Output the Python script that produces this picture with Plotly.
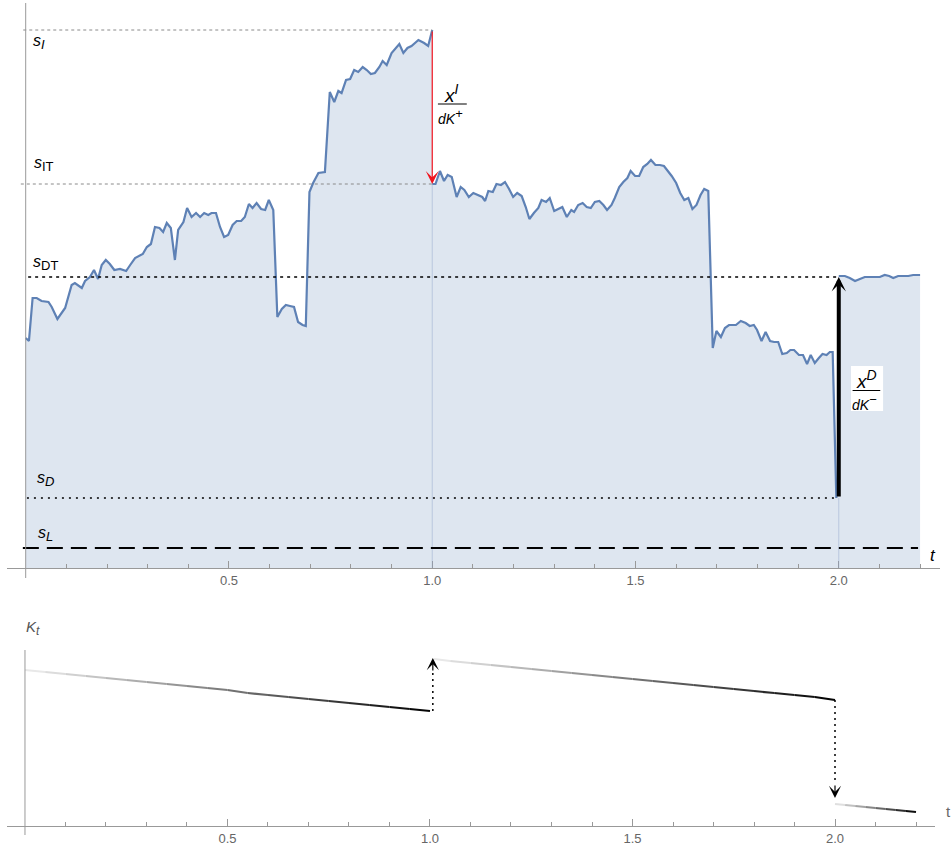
import plotly.graph_objects as go

W, H = 951, 852

# ---------------- data: state path s_t (three pieces, broken at the controlled jumps) -------------
t_a = [0.000, 0.008, 0.017, 0.027, 0.039, 0.056, 0.064, 0.078, 0.097, 0.113,
       0.121, 0.138, 0.146, 0.158, 0.168, 0.178, 0.187, 0.197, 0.207, 0.218,
       0.232, 0.247, 0.257, 0.269, 0.288, 0.298, 0.308, 0.318, 0.329, 0.338,
       0.347, 0.357, 0.367, 0.375, 0.388, 0.397, 0.408, 0.419, 0.429, 0.439,
       0.449, 0.457, 0.468, 0.478, 0.488, 0.498, 0.509, 0.519, 0.530, 0.539,
       0.549, 0.558, 0.568, 0.579, 0.589, 0.598, 0.609, 0.619, 0.630, 0.640,
       0.650, 0.660, 0.670, 0.681, 0.689, 0.698, 0.707, 0.720, 0.736, 0.748,
       0.759, 0.769, 0.777, 0.788, 0.798, 0.808, 0.818, 0.829, 0.839, 0.849,
       0.859, 0.870, 0.878, 0.888, 0.900, 0.919, 0.929, 0.939, 0.949, 0.966,
       0.980, 0.990, 1.000]
s_a = [2.30, 2.27, 2.70, 2.70, 2.67, 2.66, 2.61, 2.49, 2.60, 2.83,
       2.85, 2.80, 2.87, 2.91, 2.98, 2.89, 3.03, 3.08, 3.04, 2.98,
       2.99, 2.97, 3.03, 3.10, 3.14, 3.21, 3.24, 3.41, 3.40, 3.36,
       3.45, 3.40, 3.08, 3.38, 3.46, 3.60, 3.51, 3.55, 3.51, 3.55,
       3.53, 3.55, 3.55, 3.41, 3.31, 3.33, 3.43, 3.47, 3.47, 3.51,
       3.64, 3.60, 3.65, 3.59, 3.58, 3.68, 3.58, 2.51, 2.59, 2.63,
       2.62, 2.61, 2.46, 2.43, 2.42, 3.76, 3.85, 3.95, 3.96, 4.76,
       4.66, 4.77, 4.75, 4.88, 4.89, 4.98, 4.96, 5.01, 4.98, 4.94,
       4.95, 5.01, 5.07, 5.03, 5.15, 5.24, 5.15, 5.20, 5.22, 5.28,
       5.25, 5.22, 5.38]

t_b = [1.000, 1.008, 1.019, 1.029, 1.038, 1.048, 1.060, 1.070, 1.079, 1.090,
       1.101, 1.113, 1.123, 1.130, 1.138, 1.149, 1.158, 1.169, 1.179, 1.189,
       1.199, 1.209, 1.220, 1.230, 1.239, 1.250, 1.261, 1.269, 1.280, 1.289,
       1.300, 1.310, 1.320, 1.331, 1.342, 1.349, 1.359, 1.370, 1.380, 1.390,
       1.400, 1.411, 1.421, 1.430, 1.441, 1.449, 1.460, 1.470, 1.480, 1.488,
       1.499, 1.509, 1.519, 1.529, 1.538, 1.549, 1.560, 1.570, 1.578, 1.589,
       1.600, 1.610, 1.620, 1.630, 1.640, 1.650, 1.660, 1.669, 1.679, 1.690,
       1.699, 1.710, 1.720, 1.730, 1.747, 1.759, 1.771, 1.781, 1.791, 1.799,
       1.810, 1.820, 1.831, 1.841, 1.851, 1.861, 1.872, 1.881, 1.890, 1.902,
       1.912, 1.922, 1.931, 1.941, 1.951, 1.960, 1.970, 1.978, 1.985, 1.994]
s_b = [3.84, 3.84, 3.97, 3.87, 3.93, 3.91, 3.71, 3.81, 3.78, 3.71,
       3.75, 3.73, 3.71, 3.67, 3.77, 3.76, 3.84, 3.83, 3.86, 3.79,
       3.71, 3.75, 3.72, 3.61, 3.49, 3.55, 3.60, 3.68, 3.66, 3.70,
       3.57, 3.59, 3.61, 3.51, 3.58, 3.56, 3.63, 3.65, 3.61, 3.60,
       3.66, 3.67, 3.63, 3.58, 3.63, 3.70, 3.81, 3.86, 3.90, 3.97,
       3.92, 3.92, 4.01, 4.04, 4.08, 4.03, 4.03, 4.02, 3.98, 3.92,
       3.85, 3.75, 3.68, 3.70, 3.59, 3.63, 3.73, 3.79, 3.77, 2.20,
       2.37, 2.31, 2.40, 2.43, 2.43, 2.47, 2.45, 2.42, 2.43, 2.38,
       2.27, 2.36, 2.27, 2.26, 2.26, 2.14, 2.15, 2.18, 2.18, 2.13,
       2.13, 2.04, 2.13, 2.05, 2.10, 2.14, 2.13, 2.16, 2.16, 0.70]

t_c = [2.000, 2.015, 2.027, 2.040, 2.052, 2.064, 2.089, 2.101, 2.113, 2.124,
       2.134, 2.146, 2.158, 2.171, 2.183, 2.200]
s_c = [2.92, 2.92, 2.90, 2.87, 2.89, 2.91, 2.91, 2.91, 2.93, 2.92,
       2.90, 2.92, 2.92, 2.92, 2.93, 2.93]

# thresholds
level_keys = ["I", "IT", "DT", "D", "L"]
level_values = [5.38, 3.84, 2.91, 0.70, 0.20]

# ---------------- data: capital K_t (three pieces) ----------------
k_t1 = [0.00, 0.05, 0.10, 0.15, 0.20, 0.25, 0.30, 0.35, 0.40, 0.45, 0.50,
        0.55, 0.60, 0.65, 0.70, 0.75, 0.80, 0.85, 0.90, 0.95, 1.00]
k_v1 = [1.56, 1.54, 1.52, 1.50, 1.48, 1.46, 1.44, 1.42, 1.40, 1.38, 1.36,
        1.33, 1.31, 1.29, 1.27, 1.25, 1.23, 1.21, 1.19, 1.17, 1.15]
k_t2 = [1.01, 1.05, 1.10, 1.15, 1.20, 1.25, 1.30, 1.35, 1.40, 1.45, 1.50,
        1.55, 1.60, 1.65, 1.70, 1.75, 1.80, 1.85, 1.90, 1.95, 2.00]
k_v2 = [1.67, 1.65, 1.63, 1.61, 1.59, 1.57, 1.55, 1.53, 1.51, 1.49, 1.47,
        1.45, 1.43, 1.41, 1.39, 1.37, 1.35, 1.33, 1.31, 1.29, 1.26]
k_t3 = [2.000, 2.025, 2.050, 2.075, 2.100, 2.125, 2.150, 2.175, 2.200]
k_v3 = [0.22, 0.21, 0.20, 0.19, 0.18, 0.17, 0.16, 0.15, 0.14]

tick_vals = [0.5, 1.0, 1.5, 2.0]
tick_text = ["0.5", "1.0", "1.5", "2.0"]
minor_vals = [0.1, 0.2, 0.3, 0.4, 0.6, 0.7, 0.8, 0.9, 1.1, 1.2, 1.3, 1.4,
              1.6, 1.7, 1.8, 1.9, 2.1, 2.2]

assert len(t_a) == len(s_a) and len(t_b) == len(s_b) and len(t_c) == len(s_c)

# ---------------- geometry ----------------
TOP_XR = [-0.046, 2.249]
TOP_XD = [7 / W, 940 / W]
TOP_YR = [0, 5.65]
TOP_YD = [(H - 568) / H, (H - 3) / H]
BOT_XR = [-0.0444, 2.2469]
BOT_XD = [7 / W, 935 / W]
BOT_YR = [0, 1.76]
BOT_YD = [(H - 826) / H, (H - 650) / H]

FONT = "Liberation Sans"
BLUE = "#5e81b5"
FILL = "#dee6f0"


def xpaper(t, xr, xd):
    return xd[0] + (t - xr[0]) / (xr[1] - xr[0]) * (xd[1] - xd[0])


def small(txt, px):
    return "<span style='font-size:%dpx'>%s</span>" % (px, txt)


fig = go.Figure()

# filled area under the path
fig.add_trace(go.Scatter(
    x=t_a + t_b + t_c, y=s_a + s_b + s_c, mode="lines", fill="tozeroy",
    fillcolor=FILL, line=dict(width=0, color="rgba(0,0,0,0)"),
    hoverinfo="skip", xaxis="x", yaxis="y"))
# the path itself (no vertical segment at the controlled jumps)
fig.add_trace(go.Scatter(
    x=t_a + [None] + t_b + [None] + t_c, y=s_a + [None] + s_b + [None] + s_c,
    mode="lines", line=dict(color=BLUE, width=2.2), connectgaps=False,
    hoverinfo="skip", xaxis="x", yaxis="y"))

# K_t pieces with light-to-dark gradient
for kt, kv in [(k_t1, k_v1), (k_t2, k_v2), (k_t3, k_v3)]:
    n = len(kt) - 1
    for i in range(n):
        f = (i + 0.5) / n
        g = int(round(238 * (1 - f)))
        fig.add_trace(go.Scatter(
            x=[kt[i], kt[i + 1]], y=[kv[i], kv[i + 1]], mode="lines",
            line=dict(color=f"rgb({g},{g},{g})", width=2.2),
            hoverinfo="skip", xaxis="x2", yaxis="y2"))

lv = dict(zip(level_keys, level_values))
shapes = []
# seams of the filled area at the jump dates
shapes.append(dict(type="line", xref="x", yref="y", x0=1.0, x1=1.0, y0=0, y1=lv["IT"],
                   line=dict(color="rgba(140,162,200,0.45)", width=1)))
shapes.append(dict(type="line", xref="x", yref="y", x0=2.0, x1=2.0, y0=0, y1=lv["D"],
                   line=dict(color="rgba(140,162,200,0.45)", width=1)))
# threshold lines
shapes.append(dict(type="line", xref="x", yref="y", x0=-0.006, x1=1.0, y0=lv["I"], y1=lv["I"],
                   line=dict(color="#8a8a8a", width=1, dash="3px,3px")))
shapes.append(dict(type="line", xref="x", yref="y", x0=-0.012, x1=1.0, y0=lv["IT"], y1=lv["IT"],
                   line=dict(color="#8a8a8a", width=1, dash="3px,3px")))
shapes.append(dict(type="line", xref="x", yref="y", x0=0.006, x1=2.0, y0=lv["DT"], y1=lv["DT"],
                   line=dict(color="black", width=1.6, dash="3px,4px")))
shapes.append(dict(type="line", xref="x", yref="y", x0=0.003, x1=2.0, y0=lv["D"], y1=lv["D"],
                   line=dict(color="black", width=1.6, dash="2px,5px")))
shapes.append(dict(type="line", xref="x", yref="y", x0=-0.007, x1=2.195, y0=lv["L"], y1=lv["L"],
                   line=dict(color="black", width=2.2, dash="16px,8px")))
# white box behind the second fraction label
shapes.append(dict(type="rect", xref="x", yref="y", x0=2.030, x1=2.109, y0=1.57, y1=2.02,
                   fillcolor="white", line=dict(width=0)))
# fraction bars
shapes.append(dict(type="line", xref="x", yref="y", x0=1.014, x1=1.085, y0=4.64, y1=4.64,
                   line=dict(color="black", width=1)))
shapes.append(dict(type="line", xref="x", yref="y", x0=2.034, x1=2.102, y0=1.775, y1=1.775,
                   line=dict(color="black", width=1)))
# vertical axes (drawn in paper space so they can overhang the horizontal axis)
x0_top = xpaper(0, TOP_XR, TOP_XD)
shapes.append(dict(type="line", xref="paper", yref="paper", x0=x0_top, x1=x0_top,
                   y0=(H - 578) / H, y1=(H - 3) / H, line=dict(color="#999", width=1)))
x0_bot = xpaper(0, BOT_XR, BOT_XD)
shapes.append(dict(type="line", xref="paper", yref="paper", x0=x0_bot, x1=x0_bot,
                   y0=(H - 835) / H, y1=(H - 650) / H, line=dict(color="#999", width=1)))
# dotted jump lines of K
shapes.append(dict(type="line", xref="x2", yref="y2", x0=1.007, x1=1.007, y0=k_v1[-1], y1=1.53,
                   line=dict(color="black", width=1.5, dash="2px,4px")))
shapes.append(dict(type="line", xref="x2", yref="y2", x0=2.0, x1=2.0, y0=k_v2[-1], y1=0.43,
                   line=dict(color="black", width=1.5, dash="2px,4px")))

annotations = []
# red arrow (x^I / dK^+)
annotations.append(dict(x=1.0, y=lv["IT"], ax=1.0, ay=lv["I"], xref="x", yref="y",
                        axref="x", ayref="y", text="", showarrow=True, arrowhead=3,
                        arrowsize=1.8, arrowwidth=1.2, arrowcolor="#f0141e", standoff=0))
# black arrow (x^D / dK^-)
annotations.append(dict(x=2.0, y=lv["DT"], ax=2.0, ay=lv["D"], xref="x", yref="y",
                        axref="x", ayref="y", text="", showarrow=True, arrowhead=3,
                        arrowsize=0.6, arrowwidth=4, arrowcolor="black", standoff=0))
# arrow heads of the K jumps
annotations.append(dict(x=1.007, y=1.68, ax=1.007, ay=1.54, xref="x2", yref="y2",
                        axref="x2", ayref="y2", text="", showarrow=True, arrowhead=3,
                        arrowsize=1.7, arrowwidth=1.2, arrowcolor="black", standoff=0))
annotations.append(dict(x=2.0, y=0.28, ax=2.0, ay=0.42, xref="x2", yref="y2",
                        axref="x2", ayref="y2", text="", showarrow=True, arrowhead=3,
                        arrowsize=1.7, arrowwidth=1.2, arrowcolor="black", standoff=0))

lab_font = dict(family=FONT, size=16, color="black")
level_labels = [
    ("<i>s</i><sub>" + small("<i>I</i>", 13) + "</sub>", 0.013, 5.26),
    ("<i>s</i><sub>" + small("IT", 13) + "</sub>", 0.015, 4.04),
    ("<i>s</i><sub>" + small("DT", 13) + "</sub>", 0.013, 3.05),
    ("<i>s</i><sub>" + small("<i>D</i>", 13) + "</sub>", 0.023, 0.89),
    ("<i>s</i><sub>" + small("<i>L</i>", 13) + "</sub>", 0.025, 0.34),
]
for txt, x, y in level_labels:
    annotations.append(dict(x=x, y=y, xref="x", yref="y", text=txt, showarrow=False,
                            xanchor="left", yanchor="middle", font=lab_font))

# fraction labels
annotations.append(dict(x=1.048, y=4.75, xref="x", yref="y",
                        text="<i>x</i><sup>" + small("<i>I</i>", 14) + "</sup>",
                        showarrow=False, font=dict(family=FONT, size=19, color="black")))
annotations.append(dict(x=1.045, y=4.52, xref="x", yref="y",
                        text="<i>dK</i><sup>" + small("+", 13) + "</sup>",
                        showarrow=False, font=dict(family=FONT, size=14, color="black")))
annotations.append(dict(x=2.069, y=1.89, xref="x", yref="y",
                        text="<i>x</i><sup>" + small("<i>D</i>", 14) + "</sup>",
                        showarrow=False, font=dict(family=FONT, size=19, color="black")))
annotations.append(dict(x=2.064, y=1.66, xref="x", yref="y",
                        text="<i>dK</i><sup>" + small("\u2212", 13) + "</sup>",
                        showarrow=False, font=dict(family=FONT, size=14, color="black")))

# axis names
annotations.append(dict(x=2.231, y=0.13, xref="x", yref="y", text="<i>t</i>", showarrow=False,
                        font=dict(family=FONT, size=17, color="black")))
annotations.append(dict(x=24 / W, y=(H - 640) / H, xref="paper", yref="paper",
                        text="<i>K</i><sub>" + small("<i>t</i>", 12) + "</sub>", showarrow=False,
                        font=dict(family=FONT, size=15, color="#555")))
annotations.append(dict(x=944 / W, y=(H - 822) / H, xref="paper", yref="paper",
                        text="t", showarrow=False, xanchor="left",
                        font=dict(family=FONT, size=15, color="#666")))


def xaxis_style(xr, xd, anchor):
    return dict(domain=xd, range=xr, anchor=anchor, showline=True, linecolor="#999",
                linewidth=1, ticks="inside", ticklen=7, tickcolor="#999", tickwidth=1,
                tickmode="array", tickvals=tick_vals, ticktext=tick_text,
                tickfont=dict(family=FONT, size=13, color="#666"),
                showgrid=False, zeroline=False, fixedrange=True,
                minor=dict(tickmode="array", tickvals=minor_vals, ticks="inside",
                           ticklen=4, tickcolor="#999", tickwidth=1, showgrid=False))


fig.update_layout(
    width=W, height=H, margin=dict(l=0, r=0, t=0, b=0), template="none",
    paper_bgcolor="white", plot_bgcolor="rgba(0,0,0,0)", showlegend=False,
    font=dict(family=FONT),
    xaxis=xaxis_style(TOP_XR, TOP_XD, "y"),
    yaxis=dict(domain=TOP_YD, range=TOP_YR, visible=False, fixedrange=True),
    xaxis2=xaxis_style(BOT_XR, BOT_XD, "y2"),
    yaxis2=dict(domain=BOT_YD, range=BOT_YR, visible=False, fixedrange=True),
    shapes=shapes, annotations=annotations,
)

# the page body has a default 8px margin; remove it so the figure fills the window
fig.write_html("out.html", config={"displayModeBar": False},
               post_script="document.body.style.margin='0px';")
